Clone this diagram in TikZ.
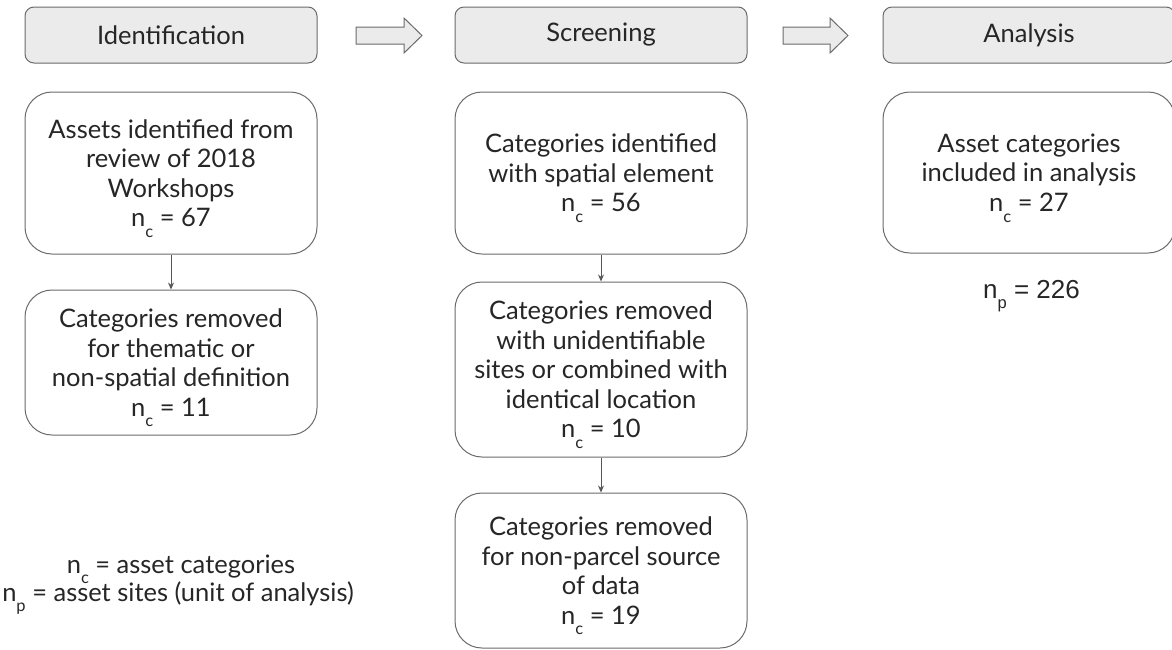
\documentclass[tikz,border=0pt]{standalone}
\usepackage{fontspec}
\setmainfont{Lato}
\newfontfamily\arialfont{Liberation Sans}
\usetikzlibrary{arrows.meta}

\definecolor{edgegray}{HTML}{6B6B6B}
\definecolor{headfill}{HTML}{EBEBEB}
\definecolor{textgray}{HTML}{262626}

\newcommand{\nsub}[1]{n\raisebox{-0.42em}[\height][0pt]{\fontsize{16.5}{16.5}\selectfont #1}}

\tikzstyle{base} = [text=textgray, font=\fontsize{25.5}{29.5}\selectfont, align=center, inner sep=0pt]
\tikzstyle{header} = [base, rectangle, rounded corners=9pt, minimum width=292pt, minimum height=56pt, draw=edgegray, line width=1pt, fill=headfill]
\tikzstyle{stepbox} = [base, rectangle, rounded corners=27pt, minimum width=292pt, draw=edgegray, line width=1pt, fill=white]
\tikzstyle{blockarrow} = [draw=edgegray, line width=1pt, fill=headfill, line join=miter]
\tikzstyle{arrow} = [draw=edgegray!80!black, line width=0.9pt, -{Stealth[length=7pt,width=6pt]}]

\begin{document}
\begin{tikzpicture}[x=1pt, y=-1pt]
\useasboundingbox (0,0) rectangle (1172,649);

% Headers
\node (hid) [header] at (171,35) {Identification};
\node (hscr) [header] at (601,35) {Screening};
\node (hana) [header] at (1029,35) {Analysis};

% Block arrows between headers
\draw [blockarrow] (356,27) -- (404,27) -- (404,18) -- (422,35.5) -- (404,53) -- (404,44) -- (356,44) -- cycle;
\draw [blockarrow] (783,27) -- (830,27) -- (830,18) -- (848,35.5) -- (830,53) -- (830,44) -- (783,44) -- cycle;

% Identification column
\node (assets) [stepbox, minimum height=162pt] at (171,173) {Assets identified from\\review of 2018\\Workshops\\\nsub{c} = 67};
\node (thematic) [stepbox, minimum height=145pt] at (171,362.5) {Categories removed\\for thematic or\\non-spatial definition\\\nsub{c} = 11};

% Screening column
\node (spatial) [stepbox, minimum height=162pt] at (601,173) {Categories identified\\with spatial element\\\nsub{c} = 56};
\node (unident) [stepbox, minimum height=175pt] at (601,369.5) {Categories removed\\with unidentifiable\\sites or combined with\\identical location\\\nsub{c} = 10};
\node (parcel) [stepbox, minimum height=155pt] at (601,570.5) {Categories removed\\for non-parcel source\\of data\\\nsub{c} = 19};

% Analysis column
\node (included) [stepbox, minimum height=161pt] at (1029,172.5) {Asset categories\\included in analysis\\\nsub{c} = 27};
\node (sites) [base, anchor=base west, font=\arialfont\fontsize{26}{30}\selectfont] at (983,298) {\nsub{p} = 226};

% Legend
\node (legc) [base, anchor=base] at (181,573) {\nsub{c} = asset categories};
\node (legp) [base, anchor=base] at (178,601) {\nsub{p} = asset sites (unit of analysis)};

% Arrows
\draw [arrow] (assets) -- (thematic);
\draw [arrow] (spatial) -- (unident);
\draw [arrow] (unident) -- (parcel);

\end{tikzpicture}
\end{document}
